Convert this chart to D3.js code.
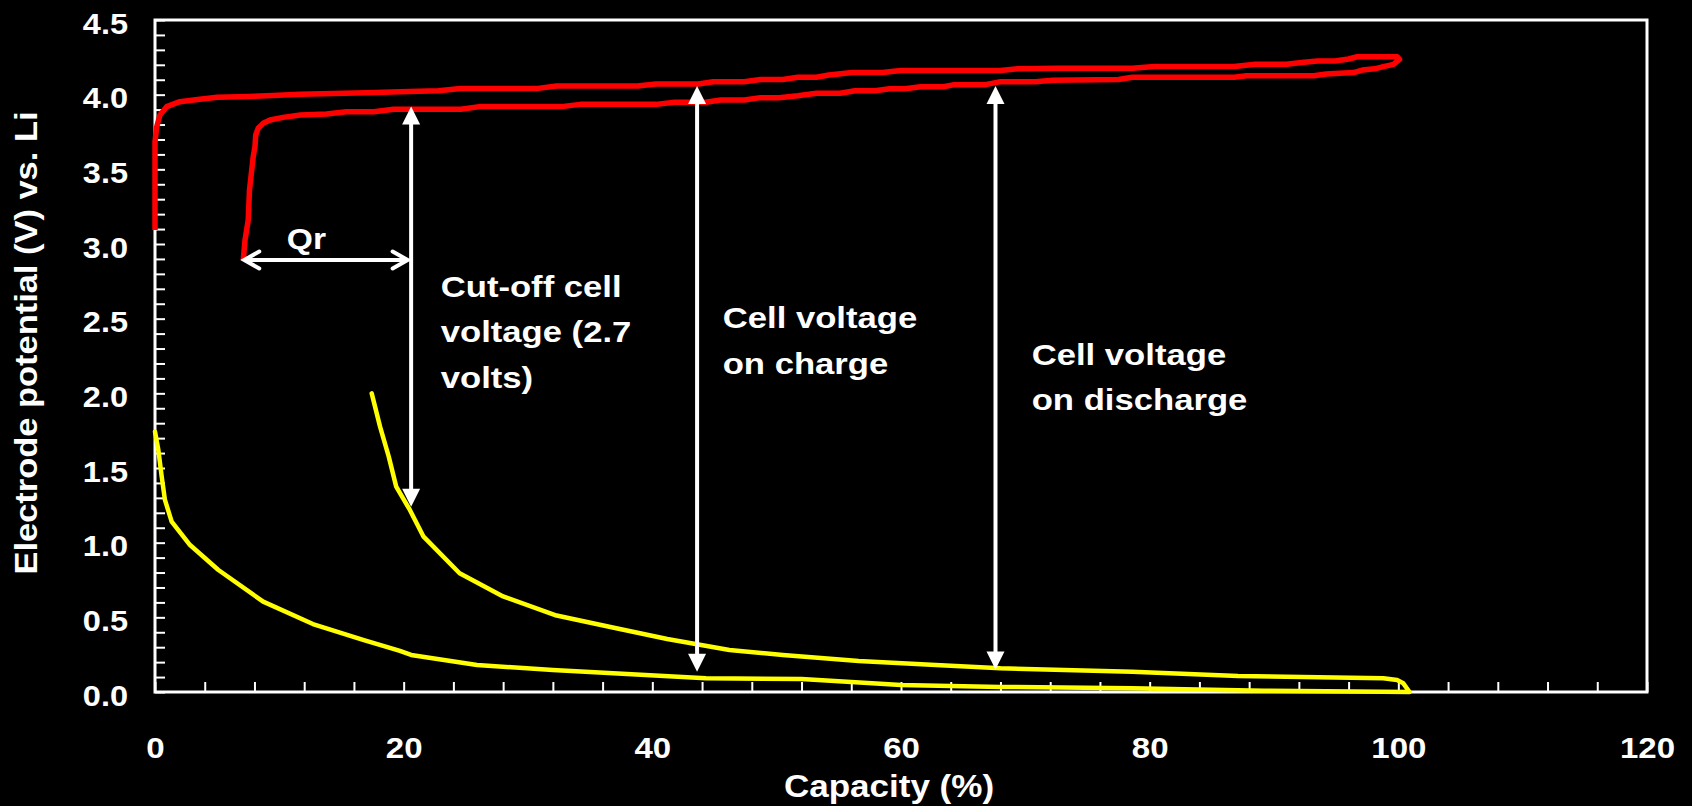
<!DOCTYPE html>
<html>
<head>
<meta charset="utf-8">
<script src="https://cdn.jsdelivr.net/npm/d3@7"></script>
<style>
  html, body { margin: 0; padding: 0; background: #000; }
  svg { display: block; }
  text { font-family: "Liberation Sans", Arial, Helvetica, sans-serif; font-weight: bold; fill: #fff; }
</style>
</head>
<body>
<svg id="chart" width="1692" height="806"></svg>
<script>
// Cathode (red): charge to 100 %, then discharge back to the cut-off
const cathodeCapacity = [
  0, 0, 0.14, 0.4, 0.94, 2.0, 3.6, 5.0, 6.8, 9.0, 11.7, 17.0, 19.7, 22.8, 24.6, 30.8, 32.3, 38.8,
  40.3, 43.7, 44.9, 47.4, 48.7, 50.5, 51.7, 53.2, 54.2, 56.1, 58.5, 60.0, 68.0, 69.4, 72.6, 78.6,
  80.4, 86.8, 88.5, 91.0, 92.4, 93.5, 94.9, 96.0, 96.7, 99.9, 100.1,
  99.6, 98.8, 98.1, 97.1, 96.4, 94.2, 93.2, 87.8, 86.8, 78.6, 77.5, 72.2, 70.8, 68.0, 66.8, 64.3,
  63.4, 61.6, 60.3, 59.1, 57.9, 56.3, 55.1, 53.2, 51.7, 50.2, 48.7, 47.4, 45.5, 44.3, 41.8, 40.3,
  34.2, 32.7, 26.1, 24.6, 19.2, 17.6, 15.4, 13.8, 11.7, 10.3, 9.25, 8.7, 8.3, 8.1, 8.04, 7.9,
  7.6, 7.5, 7.24, 7.1
];
const cathodePotential = [
  3.094, 3.685, 3.786, 3.864, 3.92, 3.953, 3.969, 3.982, 3.986, 3.993, 4.003, 4.013, 4.02, 4.026, 4.042, 4.042, 4.058, 4.058,
  4.071, 4.071, 4.087, 4.087, 4.102, 4.102, 4.117, 4.117, 4.132, 4.148, 4.148, 4.162, 4.162, 4.173, 4.177, 4.177,
  4.188, 4.188, 4.203, 4.203, 4.217, 4.226, 4.226, 4.239, 4.254, 4.254, 4.236,
  4.203, 4.188, 4.173, 4.165, 4.148, 4.139, 4.127, 4.127, 4.117, 4.117, 4.102, 4.097, 4.087, 4.087, 4.067, 4.067,
  4.053, 4.053, 4.040, 4.040, 4.026, 4.026, 4.009, 4.009, 3.993, 3.980, 3.980, 3.964, 3.964, 3.949, 3.949, 3.935,
  3.935, 3.920, 3.920, 3.902, 3.902, 3.886, 3.886, 3.871, 3.864, 3.848, 3.830, 3.808, 3.775, 3.730, 3.652, 3.585,
  3.362, 3.161, 3.027, 2.893
];

// Anode (yellow): lithiation to 100 %, then delithiation back
const anodeCapacity = [
  0, 0.27, 0.54, 0.80, 1.34, 2.82, 5.1, 8.7, 12.7, 16.8, 19.7, 20.6, 25.9, 32.0, 44.3, 52.0, 60.0,
  68.0, 78.6, 89.2, 100.9,
  100.4, 99.9, 98.8, 87.1, 78.6, 68.0, 62.8, 56.6, 50.5, 46.2, 43.7, 41.2, 37.1, 32.3, 28.0, 24.5,
  21.6, 20.5, 19.4, 18.8, 18.1, 17.43
];
const anodePotential = [
  1.743, 1.621, 1.442, 1.286, 1.141, 0.984, 0.817, 0.605, 0.455, 0.348, 0.275, 0.248, 0.181, 0.147, 0.092, 0.087, 0.047,
  0.034, 0.025, 0.009, 0.0,
  0.058, 0.080, 0.092, 0.107, 0.136, 0.159, 0.181, 0.208, 0.248, 0.281, 0.318, 0.355, 0.427, 0.512, 0.640, 0.795,
  1.040, 1.219, 1.375, 1.576, 1.777, 2.000
];

// Double-headed vertical arrows: capacity, upper tip, lower tip (V)
const arrowCapacity = [20.6, 43.6, 67.6];
const arrowTop = [3.92, 4.058, 4.058];
const arrowBottom = [1.24, 0.136, 0.15];

// Irreversible capacity (Qr) span
const qrStart = 7.1, qrEnd = 20.4, qrPotential = 2.893;

// Axis tick labels
const xTickValues = [0, 20, 40, 60, 80, 100, 120];
const yTickValues = [0, 0.5, 1.0, 1.5, 2.0, 2.5, 3.0, 3.5, 4.0, 4.5];

const svg = d3.select("#chart");
svg.append("rect").attr("width", 1692).attr("height", 806).attr("fill", "#000");

const x = d3.scaleLinear().domain([0, 120]).range([155, 1647]);
const y = d3.scaleLinear().domain([0, 4.5]).range([692, 20]);

// widen bold glyphs horizontally
function stretch(sel, k) {
  sel.each(function () {
    const w = this.getComputedTextLength();
    this.setAttribute("textLength", (w * k).toFixed(1));
    this.setAttribute("lengthAdjust", "spacingAndGlyphs");
  });
}

// minor ticks (inside the frame)
const xMinor = d3.range(0, 121, 4);
const yMinor = d3.range(0, 46).map(i => i / 10);

const xTicks = svg.append("g").attr("transform", "translate(0,692)")
  .call(d3.axisBottom(x).tickValues(xMinor).tickSize(-10).tickFormat(""));
const yTicks = svg.append("g").attr("transform", "translate(155,0)")
  .call(d3.axisLeft(y).tickValues(yMinor).tickSize(-10).tickFormat(""));
[xTicks, yTicks].forEach(g => {
  g.select(".domain").remove();
  g.selectAll("line").attr("stroke", "#fff").attr("stroke-width", 2);
});

// tick labels
const xLab = svg.append("g").attr("transform", "translate(0,692)")
  .call(d3.axisBottom(x).tickValues(xTickValues).tickSize(0).tickPadding(0).tickFormat(d3.format("d")));
xLab.select(".domain").remove();
xLab.selectAll("text").attr("y", 66).attr("dy", null)
  .style("font-size", "30px").attr("fill", "#fff")
  .attr("font-family", null);
stretch(xLab.selectAll("text"), 1.1);

const yLab = svg.append("g").attr("transform", "translate(155,0)")
  .call(d3.axisLeft(y).tickValues(yTickValues).tickSize(0).tickPadding(27).tickFormat(d3.format(".1f")));
yLab.select(".domain").remove();
yLab.selectAll("text").attr("dy", null).attr("y", 13)
  .style("font-size", "29px").attr("fill", "#fff")
  .attr("font-family", null);
stretch(yLab.selectAll("text"), 1.12);

// frame
svg.append("rect")
  .attr("x", x(0)).attr("y", y(4.5))
  .attr("width", x(120) - x(0)).attr("height", y(0) - y(4.5))
  .attr("fill", "none").attr("stroke", "#fff").attr("stroke-width", 3);

// curves
const line = d3.line().x(d => x(d[0])).y(d => y(d[1]));
svg.append("path")
  .datum(cathodeCapacity.map((c, i) => [c, cathodePotential[i]]))
  .attr("d", line).attr("fill", "none").attr("stroke", "#ff0000")
  .attr("stroke-width", 5.5).attr("stroke-linejoin", "round").attr("stroke-linecap", "butt");
svg.append("path")
  .datum(anodeCapacity.map((c, i) => [c, anodePotential[i]]))
  .attr("d", line).attr("fill", "none").attr("stroke", "#ffff00")
  .attr("stroke-width", 4.5).attr("stroke-linejoin", "round").attr("stroke-linecap", "round");

// vertical double arrows with solid heads
const head = 18, halfW = 9;
const arrows = svg.append("g");
arrowCapacity.forEach((c, i) => {
  const ax = x(c), yt = y(arrowTop[i]), yb = y(arrowBottom[i]);
  arrows.append("line")
    .attr("x1", ax).attr("x2", ax).attr("y1", yt + head - 2).attr("y2", yb - head + 2)
    .attr("stroke", "#fff").attr("stroke-width", 4);
  arrows.append("path")
    .attr("d", `M${ax},${yt} L${ax - halfW},${yt + head} L${ax + halfW},${yt + head} Z`)
    .attr("fill", "#fff");
  arrows.append("path")
    .attr("d", `M${ax},${yb} L${ax - halfW},${yb - head} L${ax + halfW},${yb - head} Z`)
    .attr("fill", "#fff");
});

// Qr span with open chevron ends
const qy = y(qrPotential), q0 = x(qrStart), q1 = x(qrEnd);
arrows.append("line").attr("x1", q0 + 1).attr("x2", q1 - 1).attr("y1", qy).attr("y2", qy)
  .attr("stroke", "#fff").attr("stroke-width", 4);
arrows.append("path")
  .attr("d", `M${q0 + 16},${qy - 8.5} L${q0 + 1},${qy} L${q0 + 16},${qy + 8.5}`)
  .attr("fill", "none").attr("stroke", "#fff").attr("stroke-width", 4)
  .attr("stroke-linejoin", "miter").attr("stroke-linecap", "round");
arrows.append("path")
  .attr("d", `M${q1 - 16},${qy - 8.5} L${q1 - 1},${qy} L${q1 - 16},${qy + 8.5}`)
  .attr("fill", "none").attr("stroke", "#fff").attr("stroke-width", 4)
  .attr("stroke-linejoin", "miter").attr("stroke-linecap", "round");

// annotations
function note(lines, cap, pot, size, k) {
  const t = svg.append("g");
  lines.forEach((s, i) => {
    t.append("text").attr("x", x(cap)).attr("y", y(pot) + i * 45.5)
      .style("font-size", size + "px").text(s);
  });
  stretch(t.selectAll("text"), k);
}
note(["Qr"], 10.6, 2.967, 30, 1.12);
note(["Cut-off cell", "voltage (2.7", "volts)"], 22.98, 2.647, 30, 1.155);
note(["Cell voltage", "on charge"], 45.66, 2.435, 30, 1.155);
note(["Cell voltage", "on discharge"], 70.51, 2.19, 30, 1.155);

// axis titles
const xt = svg.append("text").attr("x", 889).attr("y", 797)
  .attr("text-anchor", "middle").style("font-size", "31px").text("Capacity (%)");
stretch(xt, 1.13);
svg.append("text")
  .attr("transform", "translate(37,343) rotate(-90)")
  .attr("text-anchor", "middle").style("font-size", "32px")
  .attr("textLength", 463).attr("lengthAdjust", "spacingAndGlyphs")
  .text("Electrode potential (V) vs. Li");
</script>
</body>
</html>
